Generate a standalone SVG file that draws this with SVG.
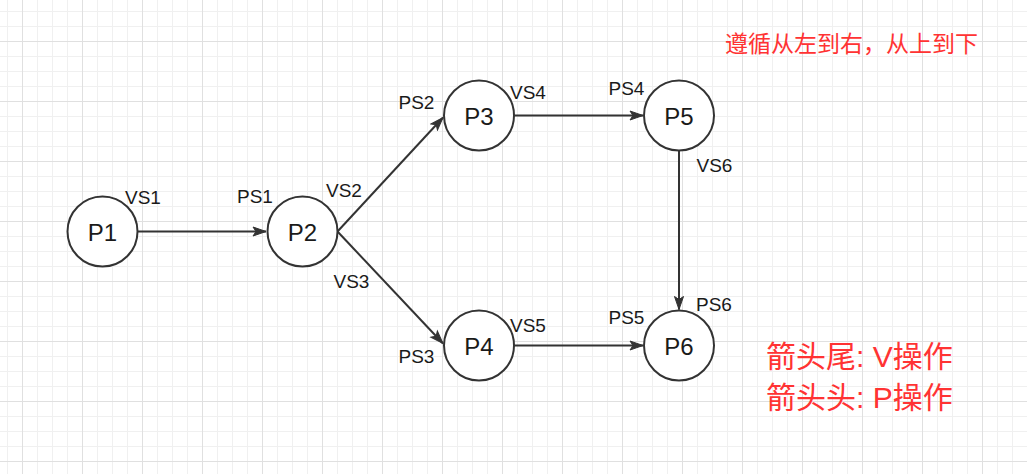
<svg xmlns="http://www.w3.org/2000/svg" width="1027" height="474" viewBox="0 0 1027 474">
<style>
.node circle{fill:#ffffff;stroke:#333333;stroke-width:2}
.node text{font-family:"Liberation Sans",Arial,sans-serif;font-size:24px;fill:#1a1a1a;text-anchor:middle}
.lbl{font-family:"Liberation Sans",Arial,sans-serif;font-size:19px;fill:#1a1a1a}
.edge{stroke:#333333;stroke-width:2;fill:none;marker-end:url(#arrow)}
.note{font-family:"Liberation Sans","Noto Sans CJK SC",sans-serif;fill:#ff3333}
</style>
<defs>
<pattern id="minor" x="7" y="11" width="15" height="15" patternUnits="userSpaceOnUse">
<path d="M0.5 0V15M0 0.5H15" stroke="#f0f0f0" stroke-width="1" fill="none"/>
</pattern>
<pattern id="major" x="22" y="41" width="60" height="60" patternUnits="userSpaceOnUse">
<path d="M0.5 0V60M0 0.5H60" stroke="#e0e0e0" stroke-width="1" fill="none"/>
</pattern>
<marker id="arrow" viewBox="-14 -6 16 12" refX="0" refY="0" markerWidth="16" markerHeight="12" markerUnits="userSpaceOnUse" orient="auto">
<path d="M-13 -4.5L0 0L-13 4.5L-10 0Z" fill="#333333" stroke="#333333" stroke-width="1" stroke-linejoin="miter"/>
</marker>
</defs>
<rect width="1027" height="474" fill="#ffffff"/>
<rect width="1027" height="474" fill="url(#minor)"/>
<rect width="1027" height="474" fill="url(#major)"/>

<g id="connectors">
<path class="edge" d="M137.5 231.5H266"/>
<path class="edge" d="M337.5 231.5L443 117.5"/>
<path class="edge" d="M337.5 231.5L443 343.5"/>
<path class="edge" d="M514 115.5H643"/>
<path class="edge" d="M514 345.5H643"/>
<path class="edge" d="M679 150.5V309.5"/>
</g>

<g id="P1" class="node"><circle cx="102.5" cy="231.5" r="35"/><text x="102.5" y="241">P1</text></g>
<g id="P2" class="node"><circle cx="302.5" cy="231.5" r="35"/><text x="302.5" y="241">P2</text></g>
<g id="P3" class="node"><circle cx="479" cy="115.5" r="35"/><text x="479" y="125">P3</text></g>
<g id="P5" class="node"><circle cx="679" cy="115.5" r="35"/><text x="679" y="125">P5</text></g>
<g id="P4" class="node"><circle cx="479" cy="345.5" r="35"/><text x="479" y="355">P4</text></g>
<g id="P6" class="node"><circle cx="679" cy="345.5" r="35"/><text x="679" y="355">P6</text></g>

<g id="labels">
<text class="lbl" x="125" y="204">VS1</text>
<text class="lbl" x="237" y="203">PS1</text>
<text class="lbl" x="326" y="197">VS2</text>
<text class="lbl" x="333.5" y="288">VS3</text>
<text class="lbl" x="398.5" y="109">PS2</text>
<text class="lbl" x="398.5" y="363">PS3</text>
<text class="lbl" x="510" y="99">VS4</text>
<text class="lbl" x="608.5" y="95">PS4</text>
<text class="lbl" x="510" y="332">VS5</text>
<text class="lbl" x="608.5" y="324">PS5</text>
<text class="lbl" x="696.5" y="172">VS6</text>
<text class="lbl" x="696" y="311">PS6</text>
</g>

<g id="notes">
<text class="note" x="725" y="51.5" font-size="23">遵循从左到右，从上到下</text>
<text class="note" x="766" y="367" font-size="30">箭头尾: V操作</text>
<text class="note" x="766" y="408" font-size="30">箭头头: P操作</text>
</g>
</svg>
